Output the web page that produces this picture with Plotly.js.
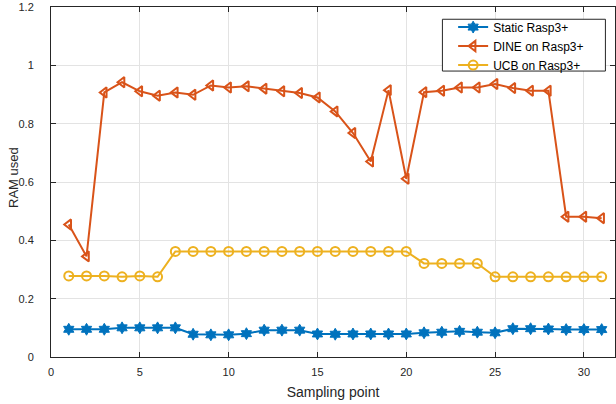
<!DOCTYPE html>
<html>
<head>
<meta charset="utf-8">
<script src="https://cdn.plot.ly/plotly-3.0.1.min.js"></script>
<style>html,body{margin:0;padding:0;background:#fff}#chart{width:616px;height:404px}</style>
</head>
<body>
<div id="chart"></div>
<script>
var samplingPoints = [1,2,3,4,5,6,7,8,9,10,11,12,13,14,15,16,17,18,19,20,21,22,23,24,25,26,27,28,29,30,31];
var staticRasp = [0.095,0.095,0.095,0.100,0.100,0.100,0.100,0.078,0.076,0.076,0.080,0.092,0.092,0.092,0.079,0.078,0.079,0.079,0.079,0.079,0.083,0.085,0.088,0.085,0.083,0.097,0.097,0.096,0.094,0.094,0.094];
var dineRasp = [0.454,0.345,0.907,0.942,0.911,0.896,0.907,0.899,0.931,0.924,0.928,0.920,0.911,0.905,0.890,0.842,0.768,0.670,0.915,0.611,0.908,0.913,0.924,0.924,0.936,0.922,0.913,0.913,0.481,0.481,0.476];
var ucbRasp = [0.278,0.278,0.278,0.275,0.278,0.275,0.362,0.362,0.362,0.362,0.362,0.362,0.362,0.362,0.362,0.362,0.362,0.362,0.362,0.362,0.321,0.321,0.321,0.321,0.275,0.275,0.275,0.275,0.275,0.275,0.275];
var seriesNames = ['Static Rasp3+','DINE on Rasp3+','UCB on Rasp3+'];
var xTicks = [0,5,10,15,20,25,30];
var yTicks = [0,0.2,0.4,0.6,0.8,1,1.2];
var yTickText = ['0','0.2','0.4','0.6','0.8','1','1.2'];
var xTitle = 'Sampling point';
var yTitle = 'RAM used';

var font = 'Liberation Sans, Arial, Helvetica, sans-serif';
var traces = [
  {x: samplingPoints, y: staticRasp, name: seriesNames[0], mode: 'lines+markers',
   line: {color: '#0072BD', width: 2}, marker: {symbol: 'hexagram', size: 9, color: '#0072BD', line: {color: '#0072BD', width: 1}}},
  {x: samplingPoints, y: dineRasp, name: seriesNames[1], mode: 'lines+markers',
   line: {color: '#D95319', width: 2}, marker: {symbol: 'triangle-left-open', size: 9, color: '#D95319', line: {color: '#D95319', width: 2}}},
  {x: samplingPoints, y: ucbRasp, name: seriesNames[2], mode: 'lines+markers',
   line: {color: '#EDB120', width: 2}, marker: {symbol: 'circle-open', size: 9, color: '#EDB120', line: {color: '#EDB120', width: 2}}}
];
var axisCommon = {
  showline: true, linecolor: '#262626', linewidth: 1, mirror: 'ticks',
  ticks: 'inside', ticklen: 5, tickcolor: '#262626',
  showgrid: true, gridcolor: '#e3e3e3', gridwidth: 1, zeroline: false,
  tickfont: {family: font, size: 11, color: '#262626'}
};
var layout = {
  width: 616, height: 404,
  margin: {l: 51, r: 1, t: 7, b: 47},
  paper_bgcolor: '#fff', plot_bgcolor: '#fff',
  showlegend: true,
  legend: {x: 0.713, y: 0.984, xanchor: 'left', yanchor: 'top',
    bgcolor: 'rgba(0,0,0,0)', borderwidth: 0,
    font: {family: font, size: 12, color: '#000'}, tracegroupgap: 0, itemwidth: 30},
  shapes: [
    {type: 'rect', xref: 'paper', yref: 'paper', x0: 0.694, x1: 0.983, y0: 0.817, y1: 0.965,
     fillcolor: '#fff', line: {color: '#262626', width: 1}, layer: 'above'}
  ],
  annotations: [
    {text: yTitle, xref: 'paper', yref: 'paper', x: 0, y: 0.5, xanchor: 'center', yanchor: 'middle',
     xshift: -38, yshift: 4, textangle: -90, showarrow: false,
     font: {family: font, size: 13, color: '#262626'}}
  ],
  xaxis: Object.assign({}, axisCommon, {range: [0, 31.75], tickvals: xTicks, ticktext: xTicks.map(String),
    ticklabelstandoff: 5,
    title: {text: xTitle, font: {family: font, size: 14, color: '#262626'}, standoff: 9}}),
  yaxis: Object.assign({}, axisCommon, {range: [0, 1.2], tickvals: yTicks, ticktext: yTickText,
    ticklabelstandoff: 14})
};
Plotly.newPlot('chart', traces, layout, {displayModeBar: false, staticPlot: true});
</script>
</body>
</html>
